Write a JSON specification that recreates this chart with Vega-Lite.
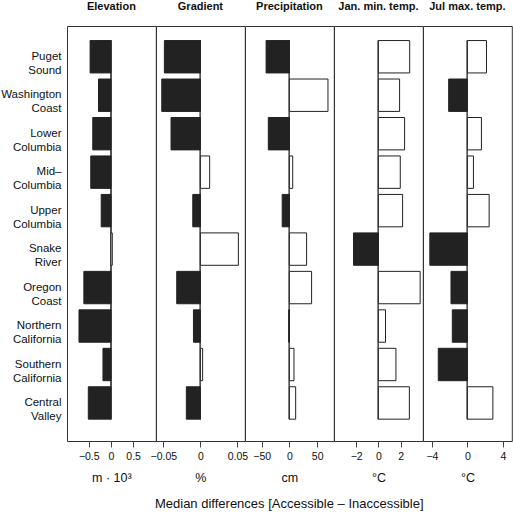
{
  "$schema": "https://vega.github.io/schema/vega-lite/v6.json",
  "padding": {"left": 0, "top": 0, "right": 0, "bottom": 0},
  "background": "white",
  "spacing": 0,
  "bounds": "flush",
  "title": {"text": "Median differences  [Accessible – Inaccessible]", "orient": "bottom", "anchor": "middle", "dx": 33, "fontSize": 13, "fontWeight": "normal", "color": "#111", "offset": 13},
  "config": {
    "font": "Liberation Sans",
    "view": {"stroke": "#333", "strokeWidth": 1},
    "title": {"fontSize": 11, "fontWeight": "bold", "color": "#111", "offset": 14},
    "axis": {"labelFont": "Liberation Sans", "titleFont": "Liberation Sans", "labelColor": "#111", "titleColor": "#111", "grid": false}
  },
  "data": {"values": [
    {"region": "Puget Sound", "variable": "elev", "value": -0.47},
    {"region": "Washington Coast", "variable": "elev", "value": -0.28},
    {"region": "Lower Columbia", "variable": "elev", "value": -0.41},
    {"region": "Mid–Columbia", "variable": "elev", "value": -0.455},
    {"region": "Upper Columbia", "variable": "elev", "value": -0.22},
    {"region": "Snake River", "variable": "elev", "value": 0.03},
    {"region": "Oregon Coast", "variable": "elev", "value": -0.61},
    {"region": "Northern California", "variable": "elev", "value": -0.72},
    {"region": "Southern California", "variable": "elev", "value": -0.18},
    {"region": "Central Valley", "variable": "elev", "value": -0.51},
    {"region": "Puget Sound", "variable": "grad", "value": -0.0487},
    {"region": "Washington Coast", "variable": "grad", "value": -0.0522},
    {"region": "Lower Columbia", "variable": "grad", "value": -0.0397},
    {"region": "Mid–Columbia", "variable": "grad", "value": 0.0125},
    {"region": "Upper Columbia", "variable": "grad", "value": -0.0103},
    {"region": "Snake River", "variable": "grad", "value": 0.0513},
    {"region": "Oregon Coast", "variable": "grad", "value": -0.032},
    {"region": "Northern California", "variable": "grad", "value": -0.0094},
    {"region": "Southern California", "variable": "grad", "value": 0.003},
    {"region": "Central Valley", "variable": "grad", "value": -0.019},
    {"region": "Puget Sound", "variable": "prec", "value": -42},
    {"region": "Washington Coast", "variable": "prec", "value": 69.5},
    {"region": "Lower Columbia", "variable": "prec", "value": -38},
    {"region": "Mid–Columbia", "variable": "prec", "value": 6},
    {"region": "Upper Columbia", "variable": "prec", "value": -13},
    {"region": "Snake River", "variable": "prec", "value": 31},
    {"region": "Oregon Coast", "variable": "prec", "value": 40},
    {"region": "Northern California", "variable": "prec", "value": -1.2},
    {"region": "Southern California", "variable": "prec", "value": 8.3},
    {"region": "Central Valley", "variable": "prec", "value": 11.3},
    {"region": "Puget Sound", "variable": "jan", "value": 2.82},
    {"region": "Washington Coast", "variable": "jan", "value": 1.91},
    {"region": "Lower Columbia", "variable": "jan", "value": 2.36},
    {"region": "Mid–Columbia", "variable": "jan", "value": 1.97},
    {"region": "Upper Columbia", "variable": "jan", "value": 2.18},
    {"region": "Snake River", "variable": "jan", "value": -2.24},
    {"region": "Oregon Coast", "variable": "jan", "value": 3.76},
    {"region": "Northern California", "variable": "jan", "value": 0.64},
    {"region": "Southern California", "variable": "jan", "value": 1.58},
    {"region": "Central Valley", "variable": "jan", "value": 2.79},
    {"region": "Puget Sound", "variable": "jul", "value": 2.15},
    {"region": "Washington Coast", "variable": "jul", "value": -2.11},
    {"region": "Lower Columbia", "variable": "jul", "value": 1.58},
    {"region": "Mid–Columbia", "variable": "jul", "value": 0.68},
    {"region": "Upper Columbia", "variable": "jul", "value": 2.45},
    {"region": "Snake River", "variable": "jul", "value": -4.23},
    {"region": "Oregon Coast", "variable": "jul", "value": -1.85},
    {"region": "Northern California", "variable": "jul", "value": -1.7},
    {"region": "Southern California", "variable": "jul", "value": -3.28},
    {"region": "Central Valley", "variable": "jul", "value": 2.87}
  ]},
  "hconcat": [
    {
      "title": "Elevation",
      "width": 88.8, "height": 415,
      "transform": [{"filter": "datum.variable === 'elev'"}],
      "encoding": {
        "y": {"field": "region", "type": "nominal", "sort": null,
          "scale": {"domain": ["Puget Sound", "Washington Coast", "Lower Columbia", "Mid–Columbia", "Upper Columbia", "Snake River", "Oregon Coast", "Northern California", "Southern California", "Central Valley"], "paddingInner": 0.158, "paddingOuter": 0.473, "align": 0.4},
          "axis": {"title": null, "ticks": false, "domain": false, "labelPadding": 6, "labelFontSize": 11.5, "labelLineHeight": 14, "labelColor": "#111",
            "labelExpr": "datum.label === 'Mid–Columbia' ? ['Mid–', 'Columbia'] : split(datum.label, ' ')"}}
      },
      "layer": [
        {"mark": {"type": "rule", "color": "#555", "strokeWidth": 1},
         "encoding": {"x": {"datum": 0, "type": "quantitative"},
           "y": {"datum": "Puget Sound", "type": "nominal", "bandPosition": 0},
           "y2": {"datum": "Central Valley", "bandPosition": 1}}},
        {"mark": {"type": "bar", "stroke": "#222", "strokeWidth": 1},
         "encoding": {
           "x": {"field": "value", "type": "quantitative",
             "scale": {"domain": [-0.99, 1.01], "nice": false, "zero": false},
             "axis": {"title": "m · 10³", "values": [-0.5, 0, 0.5], "format": "~f", "domain": false, "tickSize": 6, "tickColor": "#444", "labelFontSize": 10.5, "labelPadding": 4, "labelOverlap": false, "labelFlush": false, "labelBound": false, "titleFontSize": 12.5, "titleFontWeight": "normal", "titlePadding": 10}},
           "x2": {"datum": 0},
           "fill": {"condition": {"test": "datum.value < 0", "value": "#222"}, "value": "white"}
         }}
      ]
    },
    {
      "title": "Gradient",
      "width": 88.8, "height": 415,
      "transform": [{"filter": "datum.variable === 'grad'"}],
      "encoding": {
        "y": {"field": "region", "type": "nominal", "sort": null,
          "scale": {"domain": ["Puget Sound", "Washington Coast", "Lower Columbia", "Mid–Columbia", "Upper Columbia", "Snake River", "Oregon Coast", "Northern California", "Southern California", "Central Valley"], "paddingInner": 0.158, "paddingOuter": 0.473, "align": 0.4}, "axis": null}
      },
      "layer": [
        {"mark": {"type": "rule", "color": "#555", "strokeWidth": 1},
         "encoding": {"x": {"datum": 0, "type": "quantitative"},
           "y": {"datum": "Puget Sound", "type": "nominal", "bandPosition": 0},
           "y2": {"datum": "Central Valley", "bandPosition": 1}}},
        {"mark": {"type": "bar", "stroke": "#222", "strokeWidth": 1},
         "encoding": {
           "x": {"field": "value", "type": "quantitative",
             "scale": {"domain": [-0.06, 0.06], "nice": false, "zero": false},
             "axis": {"title": "%", "values": [-0.05, 0, 0.05], "format": "~f", "domain": false, "tickSize": 6, "tickColor": "#444", "labelFontSize": 10.5, "labelPadding": 4, "labelOverlap": false, "labelFlush": false, "labelBound": false, "titleFontSize": 12.5, "titleFontWeight": "normal", "titlePadding": 10}},
           "x2": {"datum": 0},
           "fill": {"condition": {"test": "datum.value < 0", "value": "#222"}, "value": "white"}
         }}
      ]
    },
    {
      "title": "Precipitation",
      "width": 88.8, "height": 415,
      "transform": [{"filter": "datum.variable === 'prec'"}],
      "encoding": {
        "y": {"field": "region", "type": "nominal", "sort": null,
          "scale": {"domain": ["Puget Sound", "Washington Coast", "Lower Columbia", "Mid–Columbia", "Upper Columbia", "Snake River", "Oregon Coast", "Northern California", "Southern California", "Central Valley"], "paddingInner": 0.158, "paddingOuter": 0.473, "align": 0.4}, "axis": null}
      },
      "layer": [
        {"mark": {"type": "rule", "color": "#555", "strokeWidth": 1},
         "encoding": {"x": {"datum": 0, "type": "quantitative"},
           "y": {"datum": "Puget Sound", "type": "nominal", "bandPosition": 0},
           "y2": {"datum": "Central Valley", "bandPosition": 1}}},
        {"mark": {"type": "bar", "stroke": "#222", "strokeWidth": 1},
         "encoding": {
           "x": {"field": "value", "type": "quantitative",
             "scale": {"domain": [-80, 80], "nice": false, "zero": false},
             "axis": {"title": "cm", "values": [-50, 0, 50], "format": "~f", "domain": false, "tickSize": 6, "tickColor": "#444", "labelFontSize": 10.5, "labelPadding": 4, "labelOverlap": false, "labelFlush": false, "labelBound": false, "titleFontSize": 12.5, "titleFontWeight": "normal", "titlePadding": 10}},
           "x2": {"datum": 0},
           "fill": {"condition": {"test": "datum.value < 0", "value": "#222"}, "value": "white"}
         }}
      ]
    },
    {
      "title": "Jan. min. temp.",
      "width": 88.8, "height": 415,
      "transform": [{"filter": "datum.variable === 'jan'"}],
      "encoding": {
        "y": {"field": "region", "type": "nominal", "sort": null,
          "scale": {"domain": ["Puget Sound", "Washington Coast", "Lower Columbia", "Mid–Columbia", "Upper Columbia", "Snake River", "Oregon Coast", "Northern California", "Southern California", "Central Valley"], "paddingInner": 0.158, "paddingOuter": 0.473, "align": 0.4}, "axis": null}
      },
      "layer": [
        {"mark": {"type": "rule", "color": "#555", "strokeWidth": 1},
         "encoding": {"x": {"datum": 0, "type": "quantitative"},
           "y": {"datum": "Puget Sound", "type": "nominal", "bandPosition": 0},
           "y2": {"datum": "Central Valley", "bandPosition": 1}}},
        {"mark": {"type": "bar", "stroke": "#222", "strokeWidth": 1},
         "encoding": {
           "x": {"field": "value", "type": "quantitative",
             "scale": {"domain": [-4, 4], "nice": false, "zero": false},
             "axis": {"title": "°C", "values": [-2, 0, 2], "format": "~f", "domain": false, "tickSize": 6, "tickColor": "#444", "labelFontSize": 10.5, "labelPadding": 4, "labelOverlap": false, "labelFlush": false, "labelBound": false, "titleFontSize": 12.5, "titleFontWeight": "normal", "titlePadding": 10}},
           "x2": {"datum": 0},
           "fill": {"condition": {"test": "datum.value < 0", "value": "#222"}, "value": "white"}
         }}
      ]
    },
    {
      "title": "Jul max. temp.",
      "width": 88.8, "height": 415,
      "transform": [{"filter": "datum.variable === 'jul'"}],
      "encoding": {
        "y": {"field": "region", "type": "nominal", "sort": null,
          "scale": {"domain": ["Puget Sound", "Washington Coast", "Lower Columbia", "Mid–Columbia", "Upper Columbia", "Snake River", "Oregon Coast", "Northern California", "Southern California", "Central Valley"], "paddingInner": 0.158, "paddingOuter": 0.473, "align": 0.4}, "axis": null}
      },
      "layer": [
        {"mark": {"type": "rule", "color": "#555", "strokeWidth": 1},
         "encoding": {"x": {"datum": 0, "type": "quantitative"},
           "y": {"datum": "Puget Sound", "type": "nominal", "bandPosition": 0},
           "y2": {"datum": "Central Valley", "bandPosition": 1}}},
        {"mark": {"type": "bar", "stroke": "#222", "strokeWidth": 1},
         "encoding": {
           "x": {"field": "value", "type": "quantitative",
             "scale": {"domain": [-5, 5], "nice": false, "zero": false},
             "axis": {"title": "°C", "values": [-4, -2, 0, 2, 4], "format": "~f", "domain": false, "tickSize": 6, "tickColor": "#444", "labelFontSize": 10.5, "labelPadding": 4, "labelOverlap": false, "labelFlush": false, "labelBound": false, "titleFontSize": 12.5, "titleFontWeight": "normal", "titlePadding": 10}},
           "x2": {"datum": 0},
           "fill": {"condition": {"test": "datum.value < 0", "value": "#222"}, "value": "white"}
         }}
      ]
    }
  ]
}
